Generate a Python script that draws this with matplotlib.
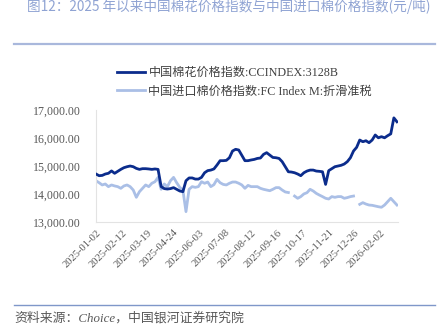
import numpy as np
import matplotlib; matplotlib.use("Agg")
import matplotlib.pyplot as plt

CJK = ["Liberation Serif", "Noto Sans CJK SC", "DejaVu Sans"]
plt.rcParams["font.family"] = CJK

title = "图12：2025 年以来中国棉花价格指数与中国进口棉价格指数(元/吨)"
source = "资料来源：Choice，中国银河证券研究院"
name_cc = "中国棉花价格指数:CCINDEX:3128B"
name_fc = "中国进口棉价格指数:FC Index M:折滑准税"

# one value every 3 trading days
step = 3
cc_index = [14720, 14660, 14670, 14720, 14745, 14830, 14745, 14815, 14885, 14945,
            14980, 15005, 14980, 14920, 14885, 14910, 14910, 14900, 14885, 14900,
            14885, 14270, 14200, 14185, 14200, 14235, 14175, 14115, 14090, 14480,
            14580, 14580, 14540, 14540, 14600, 14765, 14840, 14860, 14900, 15040,
            15195, 15195, 15205, 15300, 15540, 15600, 15575, 15385, 15195, 15195,
            15220, 15240, 15275, 15290, 15420, 15480, 15395, 15310, 15300, 15275,
            15160, 14980, 14800, 14790, 14765, 14720, 14660, 14765, 14825, 14860,
            14860, 14825, 14815, 14800, 14350, 14840, 14910, 14980, 15005, 15030,
            15075, 15160, 15300, 15540, 15670, 15930, 15870, 15905, 15835, 15930,
            16110, 16010, 16050, 16010, 16085, 16150, 16720, 16580]
fc_index = [14480, 14410, 14330, 14365, 14270, 14330, 14295, 14270, 14210, 14295,
            14330, 14270, 14150, 13890, 14090, 14210, 14330, 14270, 14390, 14445,
            14600, 14175, 14365, 14270, 14480, 14600, 14410, 14245, 14150, 13380,
            14175, 14270, 14245, 14270, 14445, 14390, 14435, 14270, 14340, 14530,
            14410, 14350, 14330, 14390, 14435, 14435, 14390, 14330, 14210, 14315,
            14270, 14270, 14270, 14210, 14175, 14150, 14125, 14175, 14235, 14235,
            14150, 14080, 14060, np.nan, 13935, 13855, 13915, 14010, 14055, 14175,
            14115, 14030, 13970, 13915, 13855, 13830, 13915, 13890, 13915, 13915,
            13855, 13880, 13915, 13935, np.nan, 13640, 13700, 13650, 13615, 13605,
            13580, 13555, 13535, 13615, 13735, 13855, 13735, 13615]
tick_labels = ["2025-01-02", "2025-02-12", "2025-03-19", "2025-04-24", "2025-06-03",
               "2025-07-08", "2025-08-12", "2025-09-16", "2025-10-17", "2025-11-21",
               "2025-12-26", "2026-02-02"]
tick_every = 25

x = np.arange(len(cc_index)) * step

fig = plt.figure(figsize=(4.4, 3.3), dpi=100)
ax = fig.add_axes([96 / 440, 1 - 222.3 / 330, 302 / 440, 112.3 / 330])

ax.plot(x, fc_index, color="#AABFE6", lw=2.0, label=name_fc, zorder=2)
ax.plot(x, cc_index, color="#0B2C8C", lw=2.0, label=name_cc, zorder=3)

ax.set_ylim(13000, 17000)
ax.set_xlim(0, x[-1] + 1)
ax.set_yticks(np.arange(13000, 17001, 1000))
ax.set_yticklabels([f"{v:,.2f}" for v in np.arange(13000, 17001, 1000)],
                   fontsize=8.6, color="#595959")
ax.set_xticks(np.arange(len(tick_labels)) * tick_every)
ax.set_xticklabels(tick_labels, rotation=45, ha="right", rotation_mode="anchor",
                   fontsize=7.6, color="#595959")
ax.tick_params(axis="y", length=0, pad=11)
ax.tick_params(axis="x", length=0, pad=4)
for s in ("top", "right"):
    ax.spines[s].set_visible(False)
for s in ("left", "bottom"):
    ax.spines[s].set_color("#E3E3E3")
    ax.spines[s].set_linewidth(0.8)

h, l = ax.get_legend_handles_labels()
leg = fig.legend(h[::-1], l[::-1], loc="upper left", bbox_to_anchor=(117 / 440, 1 - 67 / 330),
                 frameon=False, fontsize=8.7, handlelength=2.3, handletextpad=0.3,
                 labelspacing=0.55, borderaxespad=0, borderpad=0)
for t in leg.get_texts():
    t.set_color("#404040")

fig.text(27 / 440, 1 - 7 / 330, title, fontsize=9.8, color="#8FA3D3", va="center",
         family=["Noto Sans CJK SC", "DejaVu Sans"])
fig.add_artist(plt.Line2D([14 / 440, 435 / 440], [1 - 43.5 / 330] * 2, color="#A9B8DC", lw=1.6))
fig.add_artist(plt.Line2D([14 / 440, 435 / 440], [1 - 305 / 330] * 2, color="#7F97C9", lw=1.0))
fig.text(14 / 440, 1 - 318 / 330, source, fontsize=9.3, color="#595959", va="center",
         style="italic")

fig.savefig("out.png", dpi=100)
